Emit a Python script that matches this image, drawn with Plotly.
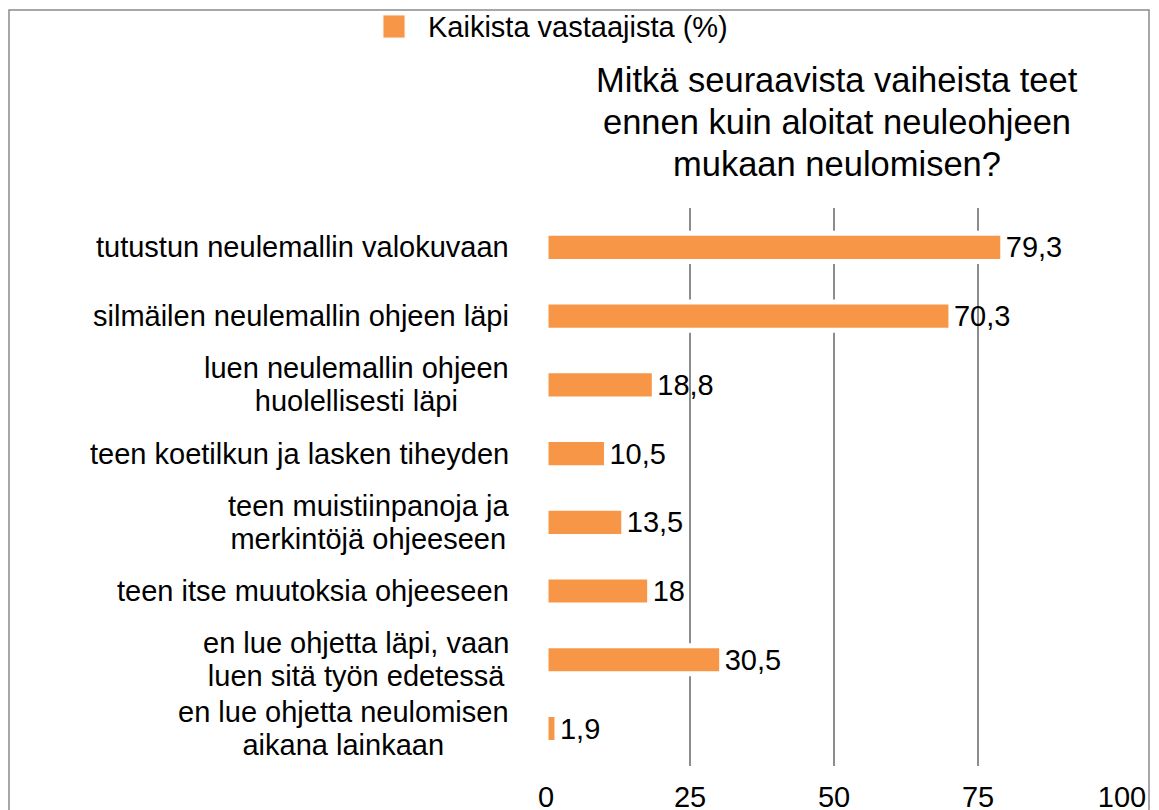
import plotly.graph_objects as go

# Data
categories = [
    "tutustun neulemallin valokuvaan",
    "silmäilen neulemallin ohjeen läpi",
    "luen neulemallin ohjeen<br>huolellisesti läpi",
    "teen koetilkun ja lasken tiheyden",
    "teen muistiinpanoja ja<br>merkintöjä ohjeeseen",
    "teen itse muutoksia ohjeeseen",
    "en lue ohjetta läpi, vaan<br>luen sitä työn edetessä",
    "en lue ohjetta neulomisen<br>aikana lainkaan",
]
values = [79.3, 70.3, 18.8, 10.5, 13.5, 18, 30.5, 1.9]
series_name = "Kaikista vastaajista (%)"
title_lines = ["Mitkä seuraavista vaiheista teet", "ennen kuin aloitat neuleohjeen", "mukaan neulomisen?"]
tick_vals = [0, 25, 50, 75, 100]
grid_vals = [25, 50, 75]

# Style
BAR_COLOR = "#F79646"
GRID_COLOR = "#8C8C8C"
FRAME_COLOR = "#8A8A8A"
FONT = "Liberation Sans, Arial, sans-serif"
FS = 29
LINE_FS = 25.4  # base size that sets line spacing (1.3 em ~ 33 px)

OFF = 8  # page body margin
W, H = 1159 - OFF, 810 - OFF
L, R, T, B = 546 - OFF, 1122 - OFF, 213 - OFF, 763 - OFF  # plot area in figure px


def px_x(px):
    # px given in screenshot coordinates
    return (px - OFF - L) / (R - L)


def px_y(py):
    return (B - (py - OFF)) / (B - T)


def big_lines(label):
    return "<br>".join(f'<span style="font-size:{FS}px">{ln}</span>' for ln in label.split("<br>"))


fig = go.Figure()
fig.add_trace(go.Bar(
    x=values, y=categories, orientation="h", name=series_name,
    marker=dict(color=BAR_COLOR, line=dict(color="white", width=5)),
    text=values, texttemplate="%{x}", textposition="outside", constraintext="none",
    textfont=dict(size=FS, color="black", family=FONT),
    cliponaxis=False, showlegend=False,
))

# gridlines only at inner ticks
for v in grid_vals:
    fig.add_shape(type="line", xref="x", yref="paper", x0=v, x1=v, y0=px_y(766), y1=px_y(208),
                  line=dict(color=GRID_COLOR, width=2), layer="below")

# category labels (multi-line ones centred)
for c in categories:
    fig.add_annotation(text=big_lines(c), xref="paper", yref="y", x=px_x(511), y=c, xanchor="right",
                       yanchor="middle", align="center", showarrow=False,
                       font=dict(size=LINE_FS, color="black", family=FONT))

# title lines
for i, ln in enumerate(title_lines):
    fig.add_annotation(text=ln, xref="paper", yref="paper", x=px_x(837), y=px_y(80 + i * 42),
                       xanchor="center", yanchor="middle", showarrow=False,
                       font=dict(size=34.5, color="black", family=FONT))

# legend swatch + text
fig.add_shape(type="rect", xref="paper", yref="paper", x0=px_x(383), x1=px_x(405),
              y0=px_y(38), y1=px_y(15), fillcolor=BAR_COLOR, line=dict(color="#FDF3EC", width=1))
fig.add_annotation(text=series_name, xref="paper", yref="paper", x=px_x(426), y=px_y(27),
                   xanchor="left", yanchor="middle", showarrow=False,
                   font=dict(size=FS, color="black", family=FONT))

# outer frame
fig.add_shape(type="rect", xref="paper", yref="paper", x0=px_x(9), x1=px_x(1149),
              y0=px_y(840), y1=px_y(10), line=dict(color=FRAME_COLOR, width=1.5), layer="below")

fig.update_layout(
    width=W, height=H, separators=", ",
    margin=dict(l=L, r=W - R, t=T, b=H - B, autoexpand=False),
    paper_bgcolor="white", plot_bgcolor="white",
    bargap=0.59,
    font=dict(family=FONT, color="black"),
)
fig.update_xaxes(range=[0, 100], tickvals=tick_vals, showgrid=False, zeroline=False,
                 showline=False, ticks="", ticklabelstandoff=14, automargin=False,
                 tickfont=dict(size=FS, color="black", family=FONT))
fig.update_yaxes(autorange="reversed", showticklabels=False, showgrid=False, zeroline=False,
                 showline=False, ticks="", automargin=False)

fig.write_html("out.html")
